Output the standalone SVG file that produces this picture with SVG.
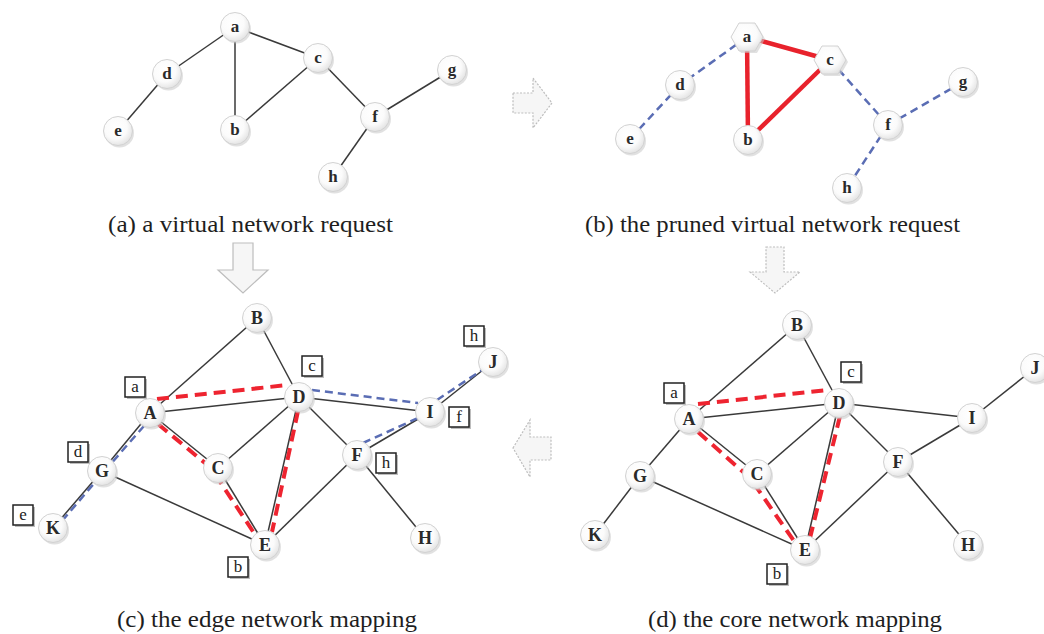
<svg xmlns="http://www.w3.org/2000/svg" width="1044" height="634" viewBox="0 0 1044 634">
<defs>
<radialGradient id="ng" cx="0.42" cy="0.38" r="0.65">
<stop offset="0" stop-color="#ffffff"/>
<stop offset="0.6" stop-color="#fbfbfb"/>
<stop offset="1" stop-color="#e2e2e2"/>
</radialGradient>
<style>
.n{fill:url(#ng);stroke:#d2d2d2;stroke-width:1}
.sh{fill:#c8c8c8;opacity:0.55}
.t{font-family:'Liberation Serif','Times New Roman',Times,serif;font-weight:bold;fill:#2a2a2a;text-anchor:middle;dominant-baseline:central}
.lo{font-size:17px}
.up{font-size:18px}
.e{stroke:#3a3a3a;stroke-width:1.5;fill:none}
.red{stroke:#e8222c;stroke-width:4.5;fill:none;stroke-linecap:butt}
.rd{stroke:#ee2430;stroke-width:4;fill:none;stroke-dasharray:12 7}
.bd{stroke:#5a6db4;stroke-width:2.5;fill:none;stroke-dasharray:8 5}
.bx{fill:#ffffff;stroke:#222;stroke-width:1.5}
.bxs{fill:#bdbdbd}
.bt{font-family:'Liberation Serif','Times New Roman',Times,serif;font-size:17px;fill:#222;text-anchor:middle;dominant-baseline:central}
.cap{font-family:'Liberation Serif','Times New Roman',Times,serif;font-size:23px;fill:#1e1e1e}
.ar{fill:#f6f6f6;stroke:#bdbdbd;stroke-width:1.2}
.ard{fill:#f6f6f6;stroke:#bdbdbd;stroke-width:1.2;stroke-dasharray:2 1.5}
</style>
</defs>
<rect width="1044" height="634" fill="#ffffff"/>

<g id="arrows">
<polygon class="ard" points="513,93 533,93 533,78 552,103 533,128 533,113 513,113"/>
<polygon class="ar" points="233,243 253,243 253,270 268,270 243,293 218,270 233,270"/>
<polygon class="ard" points="766,247 784,247 784,272 800,272 775,293 750,272 766,272"/>
<polygon class="ard" points="513,448 530,420 530,437 551,437 551,460 530,460 530,477"/>
</g>

<g id="connectors">
<line class="e" x1="235" y1="27" x2="167" y2="74"/>
<line class="e" x1="167" y1="74" x2="118" y2="131"/>
<line class="e" x1="235" y1="27" x2="235" y2="130"/>
<line class="e" x1="235" y1="27" x2="318" y2="58"/>
<line class="e" x1="235" y1="130" x2="318" y2="58"/>
<line class="e" x1="318" y1="58" x2="375" y2="117"/>
<line class="e" x1="375" y1="117" x2="452" y2="70"/>
<line class="e" x1="375" y1="117" x2="333" y2="177"/>
<line class="bd" x1="747" y1="37" x2="680" y2="85"/>
<line class="bd" x1="680" y1="85" x2="630" y2="139"/>
<line class="bd" x1="830" y1="60" x2="888" y2="125"/>
<line class="bd" x1="888" y1="125" x2="963" y2="82"/>
<line class="bd" x1="888" y1="125" x2="847" y2="188"/>
<line class="red" x1="747" y1="37" x2="748" y2="140"/>
<line class="red" x1="747" y1="37" x2="830" y2="60"/>
<line class="red" x1="748" y1="140" x2="830" y2="60"/>
<line class="e" x1="150" y1="413" x2="257" y2="318"/>
<line class="e" x1="257" y1="318" x2="299" y2="397"/>
<line class="e" x1="150" y1="413" x2="299" y2="397"/>
<line class="e" x1="150" y1="413" x2="102" y2="471"/>
<line class="e" x1="102" y1="471" x2="53" y2="528"/>
<line class="e" x1="150" y1="413" x2="218" y2="468"/>
<line class="e" x1="218" y1="468" x2="299" y2="397"/>
<line class="e" x1="218" y1="468" x2="265" y2="545"/>
<line class="e" x1="299" y1="397" x2="265" y2="545"/>
<line class="e" x1="299" y1="397" x2="430" y2="412"/>
<line class="e" x1="299" y1="397" x2="357" y2="455"/>
<line class="e" x1="357" y1="455" x2="430" y2="412"/>
<line class="e" x1="430" y1="412" x2="493" y2="362"/>
<line class="e" x1="357" y1="455" x2="265" y2="545"/>
<line class="e" x1="357" y1="455" x2="425" y2="538"/>
<line class="e" x1="102" y1="471" x2="265" y2="545"/>
<line class="rd" x1="157" y1="399" x2="288" y2="385"/>
<polyline class="rd" points="158,424 211,468 254,533"/>
<line class="rd" x1="298" y1="411" x2="272" y2="532"/>
<polyline class="bd" points="144,426 108,467 62,521"/>
<line class="bd" x1="312" y1="390" x2="418" y2="403"/>
<line class="bd" x1="363" y1="443" x2="418" y2="418"/>
<line class="bd" x1="437" y1="400" x2="482" y2="370"/>
<line class="e" x1="689" y1="419" x2="797" y2="325"/>
<line class="e" x1="797" y1="325" x2="839" y2="403"/>
<line class="e" x1="689" y1="419" x2="839" y2="403"/>
<line class="e" x1="689" y1="419" x2="640" y2="476"/>
<line class="e" x1="640" y1="476" x2="595" y2="535"/>
<line class="e" x1="689" y1="419" x2="757" y2="474"/>
<line class="e" x1="757" y1="474" x2="839" y2="403"/>
<line class="e" x1="757" y1="474" x2="805" y2="550"/>
<line class="e" x1="839" y1="403" x2="805" y2="550"/>
<line class="e" x1="839" y1="403" x2="972" y2="418"/>
<line class="e" x1="839" y1="403" x2="898" y2="462"/>
<line class="e" x1="898" y1="462" x2="972" y2="418"/>
<line class="e" x1="972" y1="418" x2="1035" y2="368"/>
<line class="e" x1="898" y1="462" x2="805" y2="550"/>
<line class="e" x1="898" y1="462" x2="968" y2="545"/>
<line class="e" x1="640" y1="476" x2="805" y2="550"/>
<line class="rd" x1="698" y1="404" x2="828" y2="390"/>
<polyline class="rd" points="698,432 750,478 794,541"/>
<line class="rd" x1="840" y1="416" x2="810" y2="538"/>
</g>

<g id="a-a"><circle class="sh" cx="236.5" cy="29" r="14.5"/><circle class="n" cx="235" cy="27" r="14.5"/><text class="t lo" x="235" y="26">a</text></g>
<g id="a-b"><circle class="sh" cx="236.5" cy="132" r="14.5"/><circle class="n" cx="235" cy="130" r="14.5"/><text class="t lo" x="235" y="129">b</text></g>
<g id="a-c"><circle class="sh" cx="319.5" cy="60" r="14.5"/><circle class="n" cx="318" cy="58" r="14.5"/><text class="t lo" x="318" y="57">c</text></g>
<g id="a-d"><circle class="sh" cx="168.5" cy="76" r="14.5"/><circle class="n" cx="167" cy="74" r="14.5"/><text class="t lo" x="167" y="73">d</text></g>
<g id="a-e"><circle class="sh" cx="119.5" cy="133" r="14.5"/><circle class="n" cx="118" cy="131" r="14.5"/><text class="t lo" x="118" y="130">e</text></g>
<g id="a-f"><circle class="sh" cx="376.5" cy="119" r="14.5"/><circle class="n" cx="375" cy="117" r="14.5"/><text class="t lo" x="375" y="116">f</text></g>
<g id="a-g"><circle class="sh" cx="453.5" cy="72" r="14.5"/><circle class="n" cx="452" cy="70" r="14.5"/><text class="t lo" x="452" y="69">g</text></g>
<g id="a-h"><circle class="sh" cx="334.5" cy="179" r="14.5"/><circle class="n" cx="333" cy="177" r="14.5"/><text class="t lo" x="333" y="176">h</text></g>

<g id="b-a"><polygon class="sh" points="733,39 741,25 757,25 765,39 757,53 741,53"/><polygon class="n" points="731,37 739,23 755,23 763,37 755,51 739,51"/><text class="t lo" x="747" y="36">a</text></g>
<g id="b-c"><polygon class="sh" points="816,62 824,48 840,48 848,62 840,76 824,76"/><polygon class="n" points="814,60 822,46 838,46 846,60 838,74 822,74"/><text class="t lo" x="830" y="59">c</text></g>
<g id="b-b"><circle class="sh" cx="749.5" cy="142" r="14.5"/><circle class="n" cx="748" cy="140" r="14.5"/><text class="t lo" x="748" y="139">b</text></g>
<g id="b-d"><circle class="sh" cx="681.5" cy="87" r="14.5"/><circle class="n" cx="680" cy="85" r="14.5"/><text class="t lo" x="680" y="84">d</text></g>
<g id="b-e"><circle class="sh" cx="631.5" cy="141" r="14.5"/><circle class="n" cx="630" cy="139" r="14.5"/><text class="t lo" x="630" y="138">e</text></g>
<g id="b-f"><circle class="sh" cx="889.5" cy="127" r="14.5"/><circle class="n" cx="888" cy="125" r="14.5"/><text class="t lo" x="888" y="124">f</text></g>
<g id="b-g"><circle class="sh" cx="964.5" cy="84" r="14.5"/><circle class="n" cx="963" cy="82" r="14.5"/><text class="t lo" x="963" y="81">g</text></g>
<g id="b-h"><circle class="sh" cx="848.5" cy="190" r="14.5"/><circle class="n" cx="847" cy="188" r="14.5"/><text class="t lo" x="847" y="187">h</text></g>

<g id="c-A"><circle class="sh" cx="151.5" cy="415" r="14.5"/><circle class="n" cx="150" cy="413" r="14.5"/><text class="t up" x="150" y="413">A</text></g>
<g id="c-B"><circle class="sh" cx="258.5" cy="320" r="14.5"/><circle class="n" cx="257" cy="318" r="14.5"/><text class="t up" x="257" y="318">B</text></g>
<g id="c-C"><circle class="sh" cx="219.5" cy="470" r="14.5"/><circle class="n" cx="218" cy="468" r="14.5"/><text class="t up" x="218" y="468">C</text></g>
<g id="c-D"><circle class="sh" cx="300.5" cy="399" r="14.5"/><circle class="n" cx="299" cy="397" r="14.5"/><text class="t up" x="299" y="397">D</text></g>
<g id="c-E"><circle class="sh" cx="266.5" cy="547" r="14.5"/><circle class="n" cx="265" cy="545" r="14.5"/><text class="t up" x="265" y="545">E</text></g>
<g id="c-F"><circle class="sh" cx="358.5" cy="457" r="14.5"/><circle class="n" cx="357" cy="455" r="14.5"/><text class="t up" x="357" y="455">F</text></g>
<g id="c-G"><circle class="sh" cx="103.5" cy="473" r="14.5"/><circle class="n" cx="102" cy="471" r="14.5"/><text class="t up" x="102" y="471">G</text></g>
<g id="c-H"><circle class="sh" cx="426.5" cy="540" r="14.5"/><circle class="n" cx="425" cy="538" r="14.5"/><text class="t up" x="425" y="538">H</text></g>
<g id="c-I"><circle class="sh" cx="431.5" cy="414" r="14.5"/><circle class="n" cx="430" cy="412" r="14.5"/><text class="t up" x="430" y="412">I</text></g>
<g id="c-J"><circle class="sh" cx="494.5" cy="364" r="14.5"/><circle class="n" cx="493" cy="362" r="14.5"/><text class="t up" x="493" y="362">J</text></g>
<g id="c-K"><circle class="sh" cx="54.5" cy="530" r="14.5"/><circle class="n" cx="53" cy="528" r="14.5"/><text class="t up" x="53" y="528">K</text></g>

<g id="c-lab-a"><rect class="bxs" x="127" y="379" width="20" height="20"/><rect class="bx" x="125" y="377" width="20" height="20"/><text class="bt" x="135" y="386">a</text></g>
<g id="c-lab-c"><rect class="bxs" x="304" y="358" width="20" height="20"/><rect class="bx" x="302" y="356" width="20" height="20"/><text class="bt" x="312" y="365">c</text></g>
<g id="c-lab-d"><rect class="bxs" x="70" y="444" width="20" height="20"/><rect class="bx" x="68" y="442" width="20" height="20"/><text class="bt" x="78" y="451">d</text></g>
<g id="c-lab-e"><rect class="bxs" x="15" y="507" width="20" height="20"/><rect class="bx" x="13" y="505" width="20" height="20"/><text class="bt" x="23" y="514">e</text></g>
<g id="c-lab-b"><rect class="bxs" x="230" y="559" width="20" height="20"/><rect class="bx" x="228" y="557" width="20" height="20"/><text class="bt" x="238" y="566">b</text></g>
<g id="c-lab-h1"><rect class="bxs" x="466" y="328" width="20" height="20"/><rect class="bx" x="464" y="326" width="20" height="20"/><text class="bt" x="474" y="335">h</text></g>
<g id="c-lab-f"><rect class="bxs" x="451" y="409" width="20" height="20"/><rect class="bx" x="449" y="407" width="20" height="20"/><text class="bt" x="459" y="416">f</text></g>
<g id="c-lab-h2"><rect class="bxs" x="378" y="455" width="20" height="20"/><rect class="bx" x="376" y="453" width="20" height="20"/><text class="bt" x="386" y="462">h</text></g>

<g id="d-A"><circle class="sh" cx="690.5" cy="421" r="14.5"/><circle class="n" cx="689" cy="419" r="14.5"/><text class="t up" x="689" y="419">A</text></g>
<g id="d-B"><circle class="sh" cx="798.5" cy="327" r="14.5"/><circle class="n" cx="797" cy="325" r="14.5"/><text class="t up" x="797" y="325">B</text></g>
<g id="d-C"><circle class="sh" cx="758.5" cy="476" r="14.5"/><circle class="n" cx="757" cy="474" r="14.5"/><text class="t up" x="757" y="474">C</text></g>
<g id="d-D"><circle class="sh" cx="840.5" cy="405" r="14.5"/><circle class="n" cx="839" cy="403" r="14.5"/><text class="t up" x="839" y="403">D</text></g>
<g id="d-E"><circle class="sh" cx="806.5" cy="552" r="14.5"/><circle class="n" cx="805" cy="550" r="14.5"/><text class="t up" x="805" y="550">E</text></g>
<g id="d-F"><circle class="sh" cx="899.5" cy="464" r="14.5"/><circle class="n" cx="898" cy="462" r="14.5"/><text class="t up" x="898" y="462">F</text></g>
<g id="d-G"><circle class="sh" cx="641.5" cy="478" r="14.5"/><circle class="n" cx="640" cy="476" r="14.5"/><text class="t up" x="640" y="476">G</text></g>
<g id="d-H"><circle class="sh" cx="969.5" cy="547" r="14.5"/><circle class="n" cx="968" cy="545" r="14.5"/><text class="t up" x="968" y="545">H</text></g>
<g id="d-I"><circle class="sh" cx="973.5" cy="420" r="14.5"/><circle class="n" cx="972" cy="418" r="14.5"/><text class="t up" x="972" y="418">I</text></g>
<g id="d-J"><circle class="sh" cx="1036.5" cy="370" r="14.5"/><circle class="n" cx="1035" cy="368" r="14.5"/><text class="t up" x="1035" y="368">J</text></g>
<g id="d-K"><circle class="sh" cx="596.5" cy="537" r="14.5"/><circle class="n" cx="595" cy="535" r="14.5"/><text class="t up" x="595" y="535">K</text></g>

<g id="d-lab-a"><rect class="bxs" x="666" y="385" width="20" height="20"/><rect class="bx" x="664" y="383" width="20" height="20"/><text class="bt" x="674" y="392">a</text></g>
<g id="d-lab-c"><rect class="bxs" x="843" y="364" width="20" height="20"/><rect class="bx" x="841" y="362" width="20" height="20"/><text class="bt" x="851" y="371">c</text></g>
<g id="d-lab-b"><rect class="bxs" x="769" y="566" width="20" height="20"/><rect class="bx" x="767" y="564" width="20" height="20"/><text class="bt" x="777" y="573">b</text></g>

<g id="captions">
<text class="cap" x="108" y="232" textLength="285" lengthAdjust="spacingAndGlyphs">(a) a virtual network request</text>
<text class="cap" x="585" y="232" textLength="375" lengthAdjust="spacingAndGlyphs">(b) the pruned virtual network request</text>
<text class="cap" x="117" y="627" textLength="300" lengthAdjust="spacingAndGlyphs">(c) the edge network mapping</text>
<text class="cap" x="648" y="627" textLength="294" lengthAdjust="spacingAndGlyphs">(d) the core network mapping</text>
</g>
</svg>
